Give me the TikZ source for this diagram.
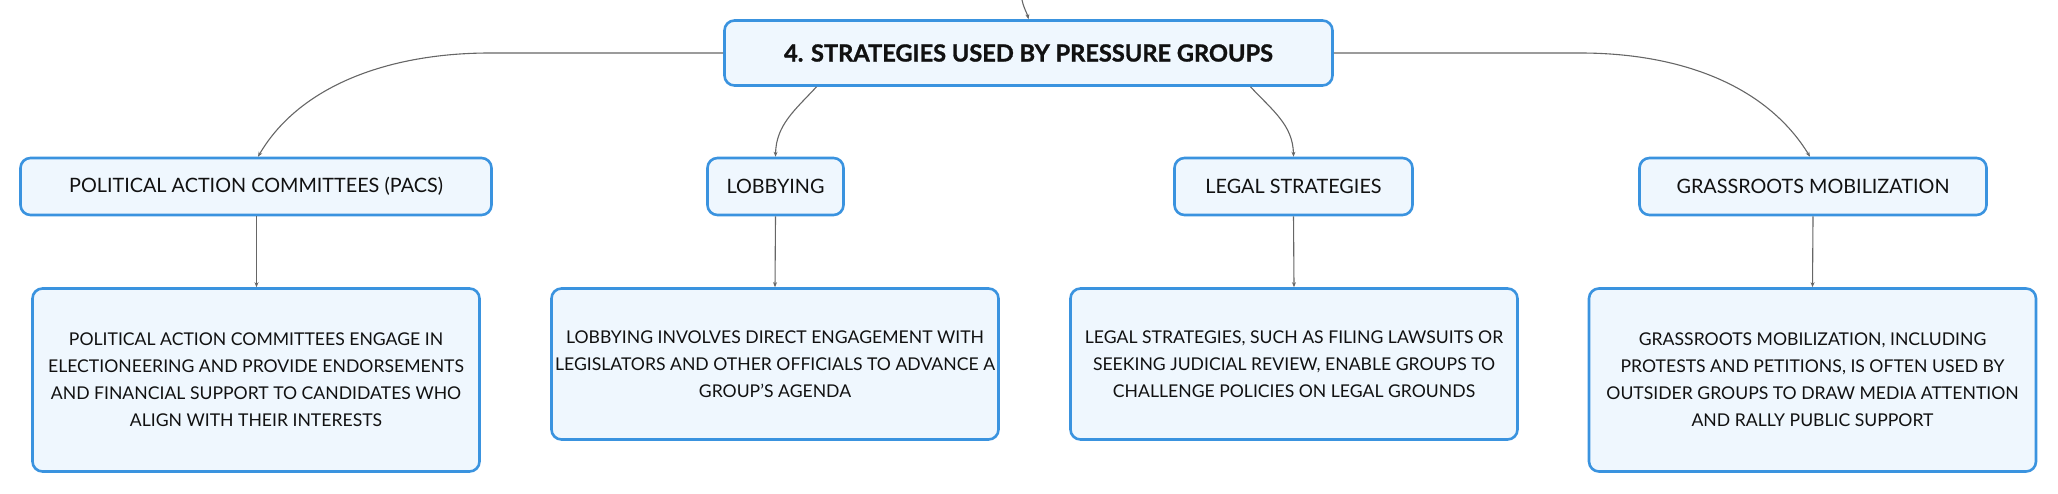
\documentclass[tikz,border=0pt]{standalone}
\usepackage{fontspec}
\setmainfont{Lato}
\newfontfamily\rootfont{Lato}[BoldFeatures={FakeBold=1.2}]
\usetikzlibrary{arrows.meta,calc}
\definecolor{boxblue}{HTML}{3A93DF}
\definecolor{boxfill}{HTML}{EFF7FE}
\definecolor{linegray}{HTML}{666666}
\definecolor{txt}{HTML}{111111}
\tikzset{
  box/.style={draw=boxblue, line width=2.6pt, fill=boxfill, rounded corners=10pt,
    align=center, text=txt, inner sep=0pt},
  rootbox/.style={box, minimum width=608pt, minimum height=65pt,
    font=\rootfont\fontsize{23.6}{28}\selectfont\bfseries},
  catbox/.style={box, minimum height=57pt, font=\fontsize{19.8}{24}\selectfont},
  descbox/.style={box, minimum width=447pt, font=\fontsize{17.6}{27}\selectfont},
  conn/.style={draw=linegray, line width=1.1pt, -{Stealth[length=5pt,width=4pt]}},
}
\begin{document}
\begin{tikzpicture}[x=1pt,y=-1pt]
\useasboundingbox (0,0) rectangle (2058,494);
\node[rootbox] (root) at (1028.5,53) {4. STRATEGIES USED BY PRESSURE GROUPS};
\node[catbox, minimum width=471pt] (pac) at (256,186.5) {POLITICAL ACTION COMMITTEES (PACS)};
\node[catbox, minimum width=136pt] (lob) at (775.5,186.5) {LOBBYING};
\node[catbox, minimum width=238pt] (leg) at (1293.5,186.5) {LEGAL STRATEGIES};
\node[catbox, minimum width=347pt] (gra) at (1813,186.5) {GRASSROOTS MOBILIZATION};
\node[descbox, minimum height=183pt] (pacd) at (256,380) {POLITICAL ACTION COMMITTEES ENGAGE IN\\ELECTIONEERING AND PROVIDE ENDORSEMENTS\\AND FINANCIAL SUPPORT TO CANDIDATES WHO\\ALIGN WITH THEIR INTERESTS};
\node[descbox, minimum height=151pt] (lobd) at (775,364) {LOBBYING INVOLVES DIRECT ENGAGEMENT WITH\\LEGISLATORS AND OTHER OFFICIALS TO ADVANCE A\\GROUP’S AGENDA};
\node[descbox, minimum height=151pt] (legd) at (1294,364) {LEGAL STRATEGIES, SUCH AS FILING LAWSUITS OR\\SEEKING JUDICIAL REVIEW, ENABLE GROUPS TO\\CHALLENGE POLICIES ON LEGAL GROUNDS};
\node[descbox, minimum height=183pt] (grad) at (1812.5,380) {GRASSROOTS MOBILIZATION, INCLUDING\\PROTESTS AND PETITIONS, IS OFTEN USED BY\\OUTSIDER GROUPS TO DRAW MEDIA ATTENTION\\AND RALLY PUBLIC SUPPORT};
% connectors
\coordinate (topin) at (1022,0);
\draw[conn] (topin) .. controls (1024,9) and (1027,13) .. (root.north);
\coordinate (lbend) at (490,53);
\coordinate (rbend) at (1580,53);
\draw[conn] (root.west) -- (lbend) .. controls (390,53) and (300,85) .. ([xshift=2pt]pac.north);
\draw[conn] (root.east) -- (rbend) .. controls (1680,53) and (1766,85) .. ([xshift=-3pt]gra.north);
\draw[conn] ([xshift=-212pt]root.south) .. controls (795,110) and (776,125) .. (lob.north);
\draw[conn] ([xshift=222pt]root.south) .. controls (1272,110) and (1293,125) .. (leg.north);
\draw[conn] ([xshift=0.5pt]pac.south) -- ([xshift=0.5pt]pacd.north);
\draw[conn] (lob.south) -- (lobd.north);
\draw[conn] (leg.south) -- (legd.north);
\draw[conn] (gra.south) -- (grad.north);
\end{tikzpicture}
\end{document}
